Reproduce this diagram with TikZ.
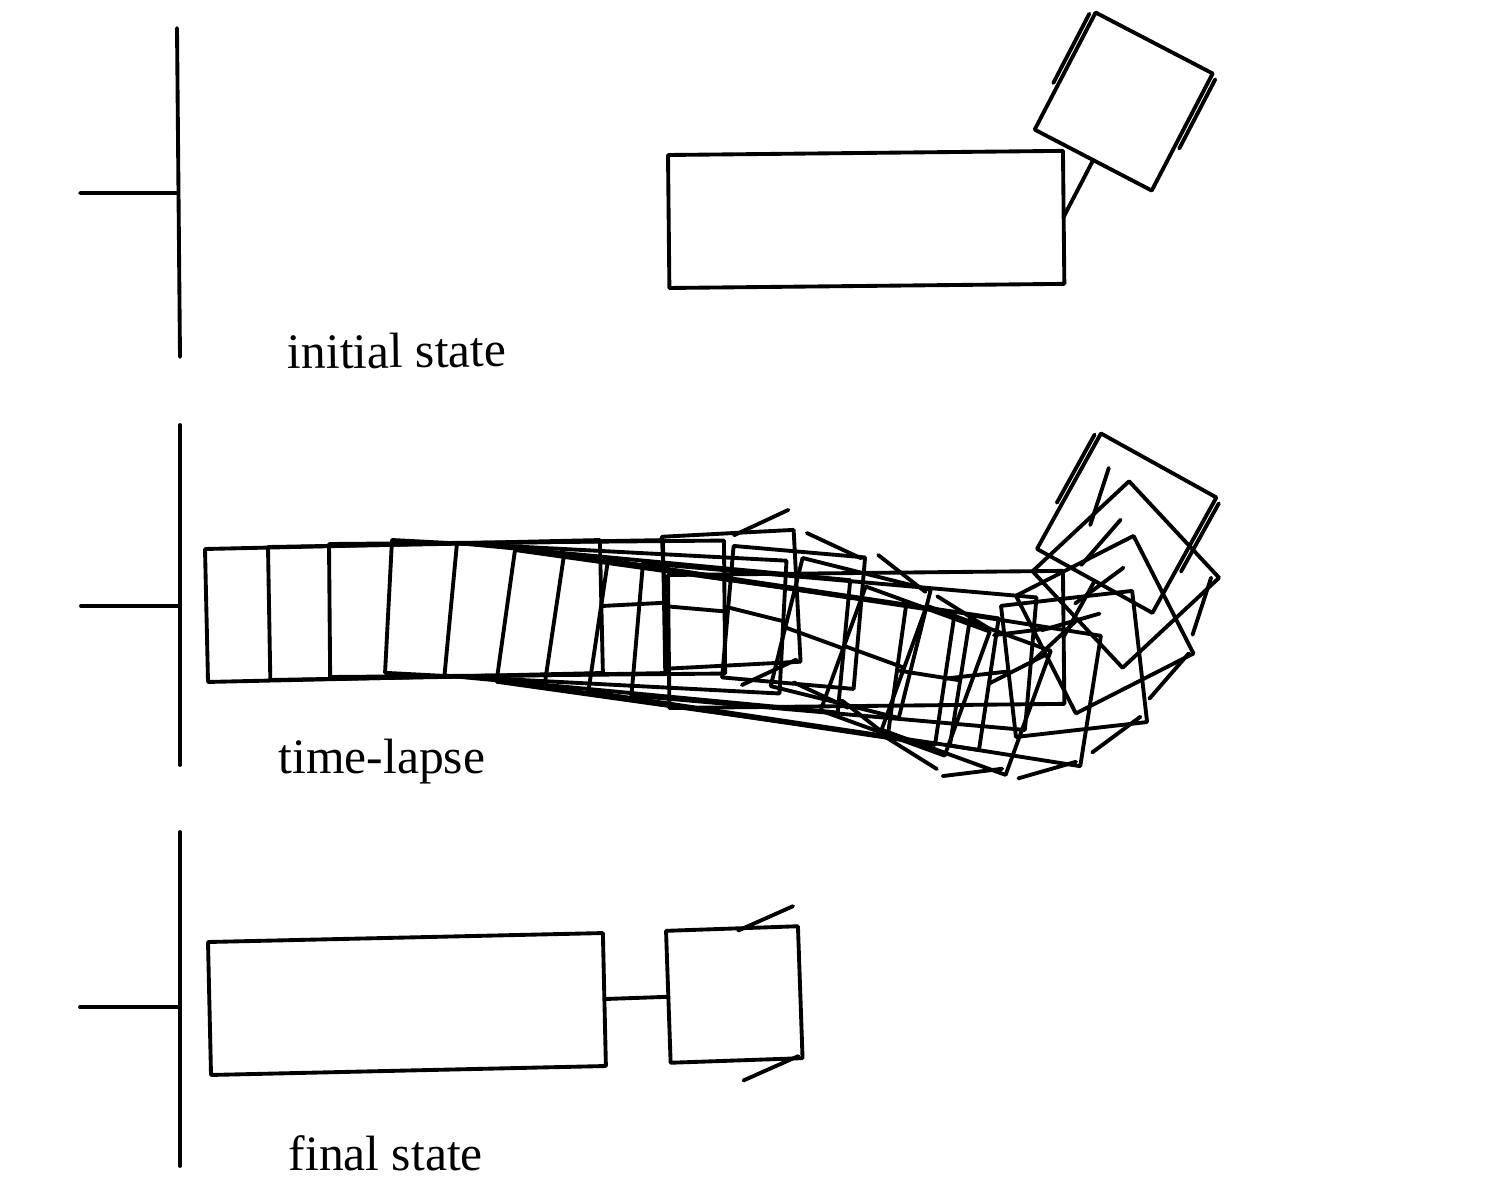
\documentclass[tikz,border=0pt]{standalone}
\usepackage{fontspec}
\setmainfont{Liberation Serif}
\tikzset{
	stroke/.style={line width=1.1pt},
	caption/.style={anchor=base west,inner sep=0pt,font=\fontsize{14.1}{16}\selectfont},
}
% x y body angle, arm angle, finger code
\newcommand{\armpose}[5]{
	\begin{scope}[shift={(#1,#2)},rotate=-(#3)]
		\draw[stroke] (0,0) rectangle (395,133);
		\begin{scope}[shift={(395,66)},rotate={(#3)-(#4)}]
			\draw[stroke] (0,0)--(64,0);
			\draw[stroke] (64,-66) rectangle (196,66);
			#5
		\end{scope}
	\end{scope}
}
\newcommand{\openfingers}{\draw[stroke] (114,-71)--(192,-71) (114,71)--(192,71);}
\newcommand{\tiltfingers}[1]{
	\foreach \side in {-1,1}
		\draw[stroke,shift={(164,{\side*75})},rotate=-(#1)] (-30,0)--(30,0);
}
\begin{document}
\begin{tikzpicture}[x=0.01cm,y=-0.01cm,line join=round,line cap=round]
\useasboundingbox (0,0) rectangle (1500,1200);
	% walls
	\draw[stroke] (177,28)--(180,357) (80,193)--(178,193);
	\draw[stroke] (180,425)--(180,765) (81,606)--(180,606);
	\draw[stroke] (180,832)--(180,1166) (80,1007)--(180,1007);
	% initial state
	\armpose{668}{155}{-0.6}{-62.5}{\openfingers}
	\node[caption,rotate=0.7] (initial) at (287,369) {initial state};
	% time-lapse
	\armpose{205}{549}{-1.3}{-3}{\tiltfingers{-22}}
	\armpose{268}{547}{-1}{5}{\tiltfingers{20}}
	\armpose{329}{544}{-0.5}{14}{\tiltfingers{24}}
	\armpose{392}{540}{3}{20}{\tiltfingers{12}}
	\armpose{457}{543}{5.4}{20}{\tiltfingers{-27}}
	\armpose{515}{550}{8}{9}{\tiltfingers{-25}}
	\armpose{564}{555}{8.5}{-6.5}{\tiltfingers{-30}}
	\armpose{608}{560}{8.5}{-27}{\tiltfingers{-22}}
	\armpose{643}{563}{5}{-43}{\tiltfingers{-29}}
	\armpose{668}{575}{-0.6}{-61}{\openfingers}
	\node[caption] (lapse) at (278,773) {time-lapse};
	% final state
	\armpose{208}{942}{-1.3}{-2}{\tiltfingers{-22}}
	\node[caption] (final) at (288,1170) {final state};
\end{tikzpicture}
\end{document}
